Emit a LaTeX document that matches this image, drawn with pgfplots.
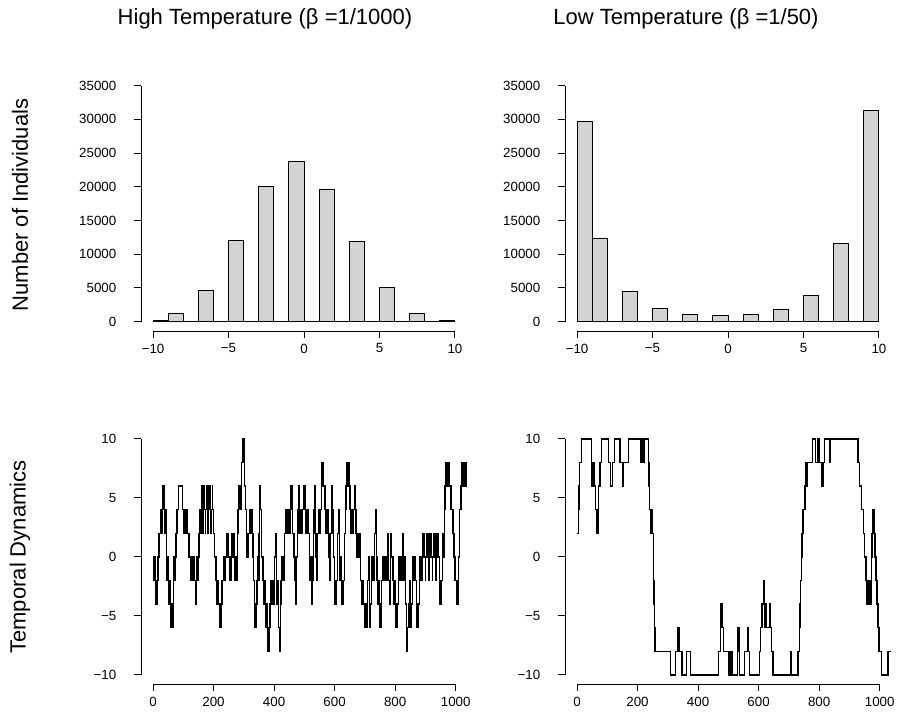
\documentclass[border=0pt]{standalone}
\usepackage{fontspec}
\setmainfont{Liberation Sans}
\usepackage{pgfplots}
\pgfplotsset{compat=1.18}

\definecolor{histgray}{RGB}{211,211,211}

% R base-graphics look: open axes, outward ticks
\pgfplotsset{
  rpanel/.style={
    scale only axis, width=244.5pt, height=191.2pt,
    anchor=south west,
    axis x line*=bottom, axis y line*=left,
    axis line style={draw=none},
    tick align=outside, major tick length=5pt,
    every tick/.style={black, line width=0.7pt},
    tick label style={font=\fontsize{10}{12}\selectfont},
    yticklabel style={xshift=-10pt},
    xticklabel style={yshift=-1pt},
    scaled y ticks=false, scaled x ticks=false,
    clip=false,
  },
  histpanel/.style={rpanel,
    xmin=-10.8, xmax=10.8, ymin=-1400, ymax=36400,
    xtick={-10,-5,0,5,10}, xticklabels={−10,−5,0,5,10},
    ytick={0,5000,10000,15000,20000,25000,30000,35000},
    yticklabels={0,5000,10000,15000,20000,25000,30000,35000},
  },
  tspanel/.style={rpanel,
    xmin=-39.6, xmax=1037.4, ymin=-10.8, ymax=10.8,
    xtick={0,200,400,600,800,1000}, xticklabels={0,200,400,600,800,1000},
    ytick={-10,-5,0,5,10}, yticklabels={−10,−5,0,5,10},
  },
}

\begin{document}
\begin{tikzpicture}
\path (0,0) rectangle (674.25pt,-543pt);

% ---------- top left: histogram, high temperature
\begin{axis}[histpanel, at={(105.75pt,-248.3pt)}]
\addplot[ybar interval, fill=histgray, draw=black, line width=0.7pt] coordinates {
(-10,200) (-9,1150) (-8,0) (-7,4650) (-6,0) (-5,12050) (-4,0) (-3,20100) (-2,0) (-1,23700)
(0,0) (1,19600) (2,0) (3,11950) (4,0) (5,5100) (6,0) (7,1250) (8,0) (9,150) (10,150)
};
\draw[line width=0.7pt] (axis cs:-10,-1400) -- (axis cs:10,-1400);
\draw[line width=0.7pt] (axis cs:-10.8,0) -- (axis cs:-10.8,35000);
\end{axis}

% ---------- top right: histogram, low temperature
\begin{axis}[histpanel, at={(423.75pt,-248.3pt)}]
\addplot[ybar interval, fill=histgray, draw=black, line width=0.7pt] coordinates {
(-10,29700) (-9,12300) (-8,0) (-7,4500) (-6,0) (-5,1930) (-4,0) (-3,1090) (-2,0) (-1,890)
(0,0) (1,1040) (2,0) (3,1730) (4,0) (5,3850) (6,0) (7,11550) (8,0) (9,31300) (10,31300)
};
\draw[line width=0.7pt] (axis cs:-10,-1400) -- (axis cs:10,-1400);
\draw[line width=0.7pt] (axis cs:-10.8,0) -- (axis cs:-10.8,35000);
\end{axis}

% ---------- bottom left: trajectory, high temperature
\begin{axis}[tspanel, at={(105.75pt,-513.3pt)}]
\addplot[const plot, black, line width=1pt, x filter/.expression={0.969*x}] coordinates {
(1,0) (3,-2) (5,0) (7,-2) (9,-4) (11,-2) (13,-4) (15,-2) (17,0) (19,2) (21,0) (23,2) (25,4) (27,2) (29,4) (31,2) (33,4) (34,6) (37,4) (40,2) (42,4) (44,2) (46,0) (48,-2) (50,0) (52,-2) (54,-4) (56,-2) (58,-4) (61,-6) (64,-4) (66,-6) (68,-4) (70,-2) (72,0) (74,-2) (76,0) (78,2) (80,4) (82,2) (84,4) (87,6) (101,4) (103,2) (106,4) (112,2) (114,4) (118,2) (121,0) (123,2) (125,0) (127,-2) (129,0) (131,-2) (133,0) (136,-2) (138,0) (141,-2) (145,-4) (148,-2) (150,0) (152,-2) (154,0) (157,2) (160,4) (162,2) (164,4) (166,6) (168,4) (170,2) (172,4) (174,6) (176,4) (178,2) (180,4) (182,6) (184,4) (186,2) (188,4) (190,6) (192,4) (194,6) (196,4) (198,2) (200,4) (202,6) (204,4) (206,2) (210,0) (212,-2) (214,0) (216,-2) (218,-4) (220,-2) (222,-4) (226,-6) (228,-4) (230,-6) (232,-4) (234,-2) (236,-4) (238,-2) (240,0) (243,-2) (246,0) (250,2) (253,0)
(256,2) (258,0) (260,-2) (262,0) (264,-2) (266,0) (268,2) (270,0) (272,2) (274,0) (276,2) (278,0) (280,-2) (282,0) (284,-2) (286,0) (288,2) (290,4) (292,6) (294,4) (300,6) (302,8) (305,10) (307,8) (309,10) (311,8) (313,6) (315,4) (318,2) (320,0) (322,2) (324,0) (326,2) (328,4) (330,2) (332,4) (334,2) (336,4) (339,2) (341,0) (343,-2) (345,-4) (347,-6) (349,-4) (351,-6) (353,-4) (355,-2) (357,0) (359,-2) (361,2) (363,4) (365,6) (367,4) (369,2) (371,0) (373,-2) (375,0) (377,-2) (379,-4) (381,-2) (383,-4) (385,-6) (387,-4) (389,-6) (391,-8) (393,-6) (395,-8) (397,-6) (399,-4) (401,-2) (403,-4) (405,-2) (407,-4) (409,-2) (411,-4) (413,-2) (415,0) (417,2) (419,0) (421,-2) (423,-4) (425,-2) (427,-4) (429,-6) (431,-8) (433,-6) (435,-4) (437,-2) (439,0) (441,-2) (443,0) (445,-2) (447,0) (449,2) (451,4) (453,2) (455,4) (457,2) (459,4) (461,2) (463,4) (465,2) (467,4) (470,6) (474,4) (476,2) (478,0) (480,2) (482,0) (484,-2) (486,-4) (488,-2) (490,0) (492,2) (494,4) (496,6) (498,4) (500,2) (502,4) (504,2) (506,4) (508,2) (510,4) (513,6) (515,4) (517,6) (519,4) (521,2) (523,4) (525,2)
(528,4) (530,2) (533,0) (535,-2) (537,0) (539,-2) (541,-4) (543,-2) (545,0) (547,2) (549,4) (550,6) (552,4) (554,2) (556,0) (558,-2) (560,0) (562,2) (564,4) (566,2) (568,4) (570,2) (572,4) (574,6) (576,8) (578,6) (580,8) (582,6) (584,4) (586,6) (588,4) (590,2) (592,4) (594,2) (596,4) (598,2) (600,0) (602,-2) (604,0) (606,2) (608,4) (610,6) (612,4) (614,2) (616,0) (618,-2) (620,-4) (622,-2) (624,-4) (626,-2) (628,0) (630,2) (632,4) (634,2) (636,0) (638,-2) (640,0) (642,-2) (644,-4) (646,-2) (648,-4) (650,-2) (652,0) (654,2) (656,4) (658,6) (660,8) (662,6) (664,8) (666,6) (668,8) (670,6) (672,4) (674,2) (676,4) (678,2) (680,4) (682,2) (684,4) (686,6) (690,4) (692,2) (694,0) (696,2) (698,0) (700,2) (702,0) (704,2) (706,0) (708,-2) (710,-4) (712,-2) (714,-4) (716,-2) (718,-4) (720,-6) (722,-4) (724,-6) (726,-4) (728,-6) (730,-4) (732,-2) (734,0) (736,-2) (738,-4) (740,-6) (742,-4) (744,-2) (746,0) (748,-2) (750,0) (752,-2) (754,0) (756,2) (758,4) (760,2) (762,0) (764,-2) (766,-4) (768,-2) (770,-4) (772,-6) (774,-4) (776,-6) (778,-4) (780,-2) (782,0) (784,-2) (786,0) (788,-2) (790,0) (792,-2) (794,0) (796,-2) (798,0) (800,2)
(802,0) (804,-2) (806,-4) (808,-2) (810,0) (812,2) (814,0) (816,-2) (818,0) (820,-2) (822,-4) (824,-2) (826,-4) (828,-6) (830,-4) (832,-6) (834,-4) (836,-2) (838,0) (840,-2) (842,0) (844,-2) (846,0) (848,-2) (850,0) (852,2) (854,0) (856,-2) (858,0) (860,-2) (862,-4) (864,-6) (866,-8) (868,-6) (870,-4) (872,-6) (874,-4) (876,-2) (878,-4) (880,-6) (882,-4) (884,-2) (886,0) (888,-2) (890,0) (892,-2) (894,0) (896,-2) (898,-4) (900,-6) (902,-4) (904,-6) (906,-4) (908,-2) (910,0) (912,-2) (914,0) (916,-2) (918,0) (920,2) (922,0) (924,2) (926,0) (928,-2) (930,0) (932,2) (934,0) (936,2) (938,0) (940,-2) (942,0) (944,2) (946,0) (948,2) (950,0) (952,-2) (954,0) (956,2) (958,0) (960,2) (962,0) (964,-2) (966,0) (968,2) (970,0) (972,2) (974,0) (976,-2) (978,-4) (980,-2) (982,-4) (984,-2) (986,0) (988,2) (990,0) (992,2) (994,4) (996,6) (998,8) (1000,6) (1002,8) (1004,6) (1006,8) (1008,6) (1010,8) (1012,6) (1014,4) (1016,6) (1018,4) (1020,2) (1022,4) (1024,2) (1026,0) (1028,-2) (1030,0) (1032,-2) (1034,-4) (1036,-2) (1038,-4) (1040,-2) (1042,0) (1044,2) (1046,4) (1050,6) (1052,8) (1054,6) (1056,8) (1060,6) (1062,8) (1066,6) (1068,8) (1070,8)
};
\draw[line width=0.7pt] (axis cs:0,-10.8) -- (axis cs:1000,-10.8);
\draw[line width=0.7pt] (axis cs:-39.6,-10) -- (axis cs:-39.6,10);
\end{axis}

% ---------- bottom right: trajectory, low temperature
\begin{axis}[tspanel, at={(423.75pt,-513.3pt)}]
\addplot[const plot, black, line width=1pt] coordinates {
(1,2) (5,4) (7,6) (9,8) (14,10) (47,8) (50,6) (52,8) (54,6) (56,8) (58,6) (62,4) (66,2) (69,4) (72,6) (76,8) (82,10) (104,8) (110,6) (118,8) (124,10) (142,8) (150,6) (153,8) (170,10) (212,8) (215,10) (216,8) (218,10) (219,8) (221,10) (236,8) (238,6) (240,4) (242,2) (244,4) (246,2) (248,4) (250,2) (252,0) (253,-2) (254,-4) (256,-6) (258,-8) (309,-10) (325,-8) (333,-6) (337,-8) (347,-10) (361,-8) (374,-10) (468,-8) (473,-6) (476,-4) (479,-6) (484,-8) (501,-10) (503,-8) (505,-10) (507,-8) (509,-10) (511,-8) (513,-10) (530,-8) (532,-6) (535,-8) (537,-10) (554,-8) (564,-6) (567,-8) (570,-10) (603,-8) (606,-6) (609,-4) (611,-6) (613,-4) (616,-2) (618,-4) (620,-6) (622,-4) (624,-6) (636,-4) (639,-6) (642,-8) (647,-10) (706,-8) (709,-10) (730,-8) (735,-6) (737,-4) (739,-2) (741,0) (743,2) (745,4) (747,2) (749,4) (751,6) (753,4) (755,6) (757,8) (760,6) (762,8) (777,10) (787,8) (796,10) (802,8) (807,6) (813,8) (818,10) (835,8) (838,10) (928,8) (933,6) (940,4) (946,2) (950,0) (955,-2) (957,-4) (959,-2) (961,-4) (963,-2) (965,-4) (967,-2) (969,-4) (971,-2) (973,0) (975,2) (977,4) (981,2) (985,0) (988,-2) (991,-4) (994,-6) (998,-8) (1007,-10) (1028,-8) (1037,-8)
};
\draw[line width=0.7pt] (axis cs:0,-10.8) -- (axis cs:1000,-10.8);
\draw[line width=0.7pt] (axis cs:-39.6,-10) -- (axis cs:-39.6,10);
\end{axis}

% ---------- outer titles
\node[font=\fontsize{16.5}{19}\selectfont] at (198.75pt,-14pt) {High Temperature (β =1/1000)};
\node[font=\fontsize{16.5}{19}\selectfont] at (514.5pt,-14pt) {Low Temperature (β =1/50)};
\node[font=\fontsize{16.5}{19}\selectfont, rotate=90] at (15pt,-153.75pt) {Number of Individuals};
\node[font=\fontsize{16.5}{19}\selectfont, rotate=90] at (15pt,-417.75pt) {Temporal Dynamics};
\end{tikzpicture}
\end{document}
